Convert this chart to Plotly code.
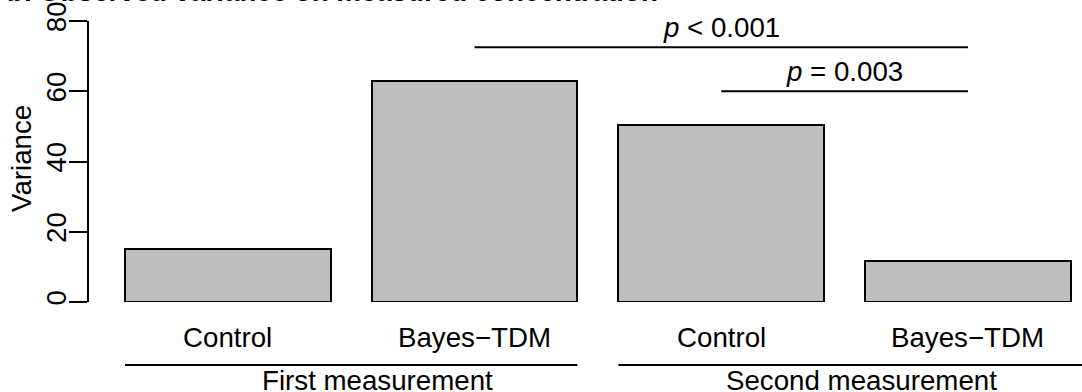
import plotly.graph_objects as go

# Variance of the measured concentration per arm and measurement round
categories = ["Control", "Bayes\u2212TDM", "Control", "Bayes\u2212TDM"]
variance = [15.0, 63.0, 50.5, 11.6]
groups = ["First measurement", "Second measurement"]
p_labels = ["<i>p</i> &lt; 0.001", "<i>p</i> = 0.003"]
y_ticks = [0, 20, 40, 60, 80]

FONT = "Liberation Sans, Arial, Helvetica, sans-serif"
FS = 27.7

# barplot-style layout: bar width 1, spacing 0.2
bar_w, space = 1.0, 0.2
centers = [space + bar_w / 2 + i * (bar_w + space) for i in range(len(variance))]
lefts = [c - bar_w / 2 for c in centers]
rights = [c + bar_w / 2 for c in centers]

fig = go.Figure()
fig.add_trace(go.Bar(
    x=centers, y=variance, width=bar_w,
    marker=dict(color="#BEBEBE", line=dict(color="black", width=2)),
    hoverinfo="skip", showlegend=False,
))

# Significance brackets: bar 2 vs bar 4 and bar 3 vs bar 4
brackets = [(1, 3, 72.5), (2, 3, 60.0)]
for (a, b, yv), lab in zip(brackets, p_labels):
    fig.add_shape(type="line", xref="x", yref="y",
                  x0=centers[a], x1=centers[b], y0=yv, y1=yv,
                  line=dict(color="black", width=2))
    fig.add_annotation(xref="x", yref="y", x=(centers[a] + centers[b]) / 2, y=yv,
                       yanchor="bottom", yshift=2, text=lab, showarrow=False,
                       font=dict(family=FONT, size=FS, color="black"))

# Category labels under the bars
for c, lab in zip(centers, categories):
    fig.add_annotation(xref="x", yref="paper", x=c, y=-0.1263, yanchor="middle",
                       text=lab, showarrow=False,
                       font=dict(family=FONT, size=FS, color="black"))

# Group lines and labels
group_spans = [(lefts[0], rights[1]), (lefts[2], 5.05)]
group_label_x = [1.428, 3.78]
for (g0, g1), gx, g in zip(group_spans, group_label_x, groups):
    fig.add_shape(type="line", xref="x", yref="paper", x0=g0, x1=g1,
                  y0=-0.2242, y1=-0.2242, line=dict(color="black", width=2))
    fig.add_annotation(xref="x", yref="paper", x=gx, y=-0.2776, yanchor="middle",
                       text=g, showarrow=False,
                       font=dict(family=FONT, size=FS, color="black"))

# Y axis title
fig.add_annotation(xref="paper", yref="paper", x=-0.0675, y=0.5125,
                   xanchor="center", yanchor="middle", textangle=-90,
                   text="Variance", showarrow=False,
                   font=dict(family=FONT, size=FS, color="black"))

# Panel title
fig.add_annotation(xref="paper", yref="paper", x=-0.0846, y=1, xanchor="left",
                   yanchor="bottom", yshift=12,
                   text="<b>b. Observed variance on measured concentration</b>",
                   showarrow=False,
                   font=dict(family=FONT, size=27.7, color="black"))

fig.update_layout(
    width=1082, height=392,
    margin=dict(l=89, r=0, t=21, b=90, pad=0),
    paper_bgcolor="white", plot_bgcolor="white",
    bargap=0,
    xaxis=dict(range=[0.0249, 4.8547], showgrid=False, zeroline=False,
               showticklabels=False, ticks="", showline=False, fixedrange=True),
    yaxis=dict(range=[0, 80], tickvals=y_ticks, ticktext=[str(v) for v in y_ticks],
               showgrid=False, zeroline=False, showline=True, linecolor="black",
               linewidth=2, ticks="outside", ticklen=18, tickwidth=2,
               tickcolor="black", tickangle=-90, ticklabelstandoff=-8,
               tickfont=dict(family=FONT, size=FS, color="black")),
)

fig.write_html("out.html")
